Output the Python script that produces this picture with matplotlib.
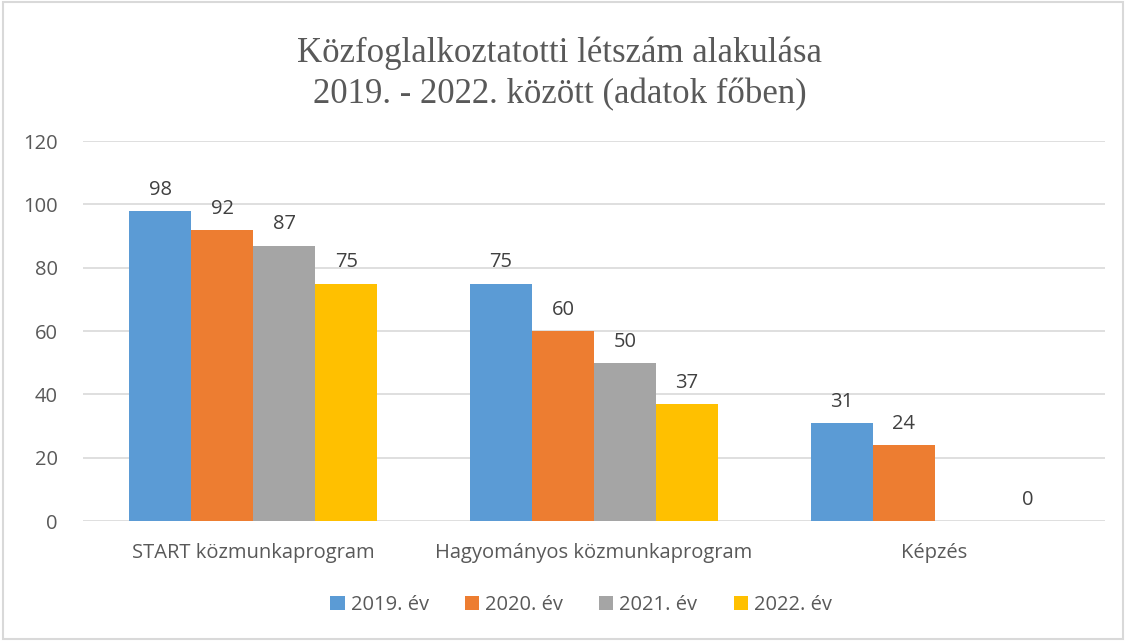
import matplotlib.pyplot as plt
import numpy as np
from matplotlib.patches import Rectangle

# Chart data
categories = ['START közmunkaprogram', 'Hagyományos közmunkaprogram', 'Képzés']
series_names = ['2019. év', '2020. év', '2021. év', '2022. év']
values_2019 = [98, 75, 31]
values_2020 = [92, 60, 24]
values_2021 = [87, 50, np.nan]   # no 2021 value for Képzés
values_2022 = [75, 37, 0]
series_values = [values_2019, values_2020, values_2021, values_2022]

colors = ['#5B9BD5', '#ED7D31', '#A5A5A5', '#FFC000']
text_color = '#595959'
grid_color = '#D9D9D9'

plt.rcParams['font.family'] = ['Open Sans', 'DejaVu Sans']

fig = plt.figure(figsize=(11.26, 6.41), dpi=100)
ax = fig.add_axes([0.0737, 0.1872, 0.9076, 0.5928])

x = np.arange(len(categories))
bar_width = 0.182
offsets = (np.arange(len(series_names)) - 1.5) * bar_width

for name, vals, color, off in zip(series_names, series_values, colors, offsets):
    vals = np.array(vals, dtype=float)
    ax.bar(x + off, np.nan_to_num(vals), width=bar_width, color=color,
           label=name, zorder=3)
    for xi, v in zip(x + off, vals):
        if np.isnan(v):
            continue
        ax.annotate(f'{v:.0f}', (xi, v), xytext=(0, 8), textcoords='offset points',
                    ha='center', va='bottom', fontsize=14.5, color='#404040')

ax.set_xlim(-0.5, len(categories) - 0.5)
ax.set_ylim(0, 120)
ax.set_yticks(np.arange(0, 121, 20))
ax.yaxis.grid(True, color=grid_color, linewidth=1.2, zorder=0)
ax.set_xticks(x)
ax.set_xticklabels(categories)
ax.tick_params(axis='both', length=0, labelsize=14.5, labelcolor=text_color)
ax.tick_params(axis='x', pad=16)
ax.tick_params(axis='y', pad=18)
for spine in ax.spines.values():
    spine.set_visible(False)

fig.text(0.497, 0.885, 'Közfoglalkoztatotti létszám alakulása\n2019. - 2022. között (adatok főben)',
         ha='center', va='center', fontsize=25, color=text_color,
         family='Liberation Serif', linespacing=1.33)

leg = fig.legend(loc='center', bbox_to_anchor=(0.516, 0.056), ncol=4, frameon=False,
                 fontsize=14.5, handlelength=0.7, handleheight=0.7,
                 handletextpad=0.3, columnspacing=1.8)
for t in leg.get_texts():
    t.set_color(text_color)

# light frame around the whole chart
fig.patches.append(Rectangle((0.003, 0.003), 0.994, 0.994, transform=fig.transFigure,
                             fill=False, edgecolor=grid_color, linewidth=1.5))

fig.savefig('out.png', dpi=100)
